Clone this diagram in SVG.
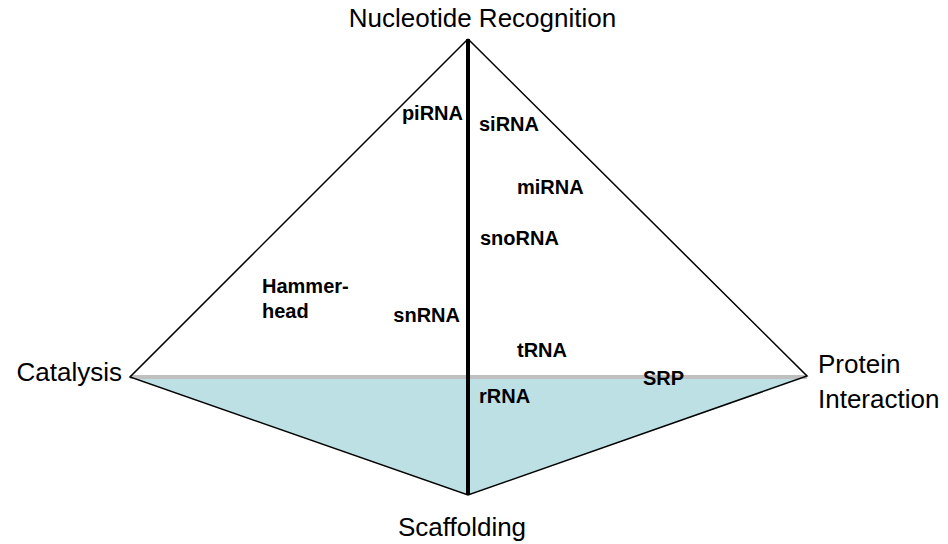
<svg xmlns="http://www.w3.org/2000/svg" width="948" height="544" viewBox="0 0 948 544">
<style>
.vl{font-family:"Liberation Sans",Arial,sans-serif;font-size:26px;fill:#000}
.rl{font-family:"Liberation Sans",Arial,sans-serif;font-size:20px;font-weight:bold;fill:#000}
.edge{stroke:#000;stroke-width:1.5;fill:none;stroke-linejoin:miter}
</style>
<rect width="948" height="544" fill="#fff"/>
<g id="base">
<polygon points="130,377 807,377 468,495" fill="#bde0e4"/>
</g>
<g id="connectors">
<line x1="130" y1="377" x2="807" y2="377" stroke="#c0c0c0" stroke-width="4"/>
<polyline class="edge" points="468,39 130,377 468,495 807,376 468,39"/>
<line x1="468" y1="39" x2="468" y2="495" stroke="#000" stroke-width="4"/>
</g>
<g id="nucleotide-recognition"><text class="vl" x="482.5" y="27" text-anchor="middle">Nucleotide Recognition</text></g>
<g id="catalysis"><text class="vl" x="122" y="381" text-anchor="end">Catalysis</text></g>
<g id="protein-interaction"><text class="vl" x="818" y="373">Protein</text><text class="vl" x="818" y="408">Interaction</text></g>
<g id="scaffolding"><text class="vl" x="462" y="536" text-anchor="middle">Scaffolding</text></g>
<g id="pirna"><text class="rl" x="463" y="120" text-anchor="end">piRNA</text></g>
<g id="sirna"><text class="rl" x="479" y="131">siRNA</text></g>
<g id="mirna"><text class="rl" x="517" y="194">miRNA</text></g>
<g id="snorna"><text class="rl" x="480" y="245">snoRNA</text></g>
<g id="hammerhead"><text class="rl" x="262" y="293">Hammer-</text><text class="rl" x="262" y="318">head</text></g>
<g id="snrna"><text class="rl" x="460" y="322" text-anchor="end">snRNA</text></g>
<g id="trna"><text class="rl" x="517" y="357">tRNA</text></g>
<g id="srp"><text class="rl" x="643" y="385">SRP</text></g>
<g id="rrna"><text class="rl" x="479" y="403">rRNA</text></g>
</svg>
